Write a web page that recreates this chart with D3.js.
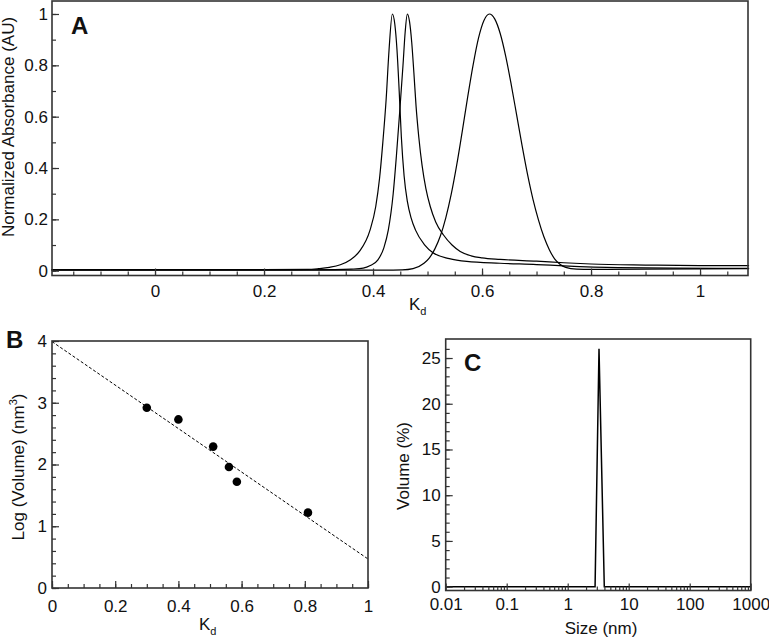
<!DOCTYPE html>
<meta charset="utf-8">
<style>
body { margin: 0; background: #fff; }
text { font-family: "Liberation Sans", Arial, sans-serif; fill: #111; }
.tick line { stroke: #333; stroke-width: 1.2; }
.frame { fill: none; stroke: #333; stroke-width: 1.6; }
</style>
<body>
<script src="https://d3js.org/d3.v7.min.js"></script>
<script>
// ---- panel A: normalized elution profiles (Kd, absorbance)
var curveA1 = [[-0.19,0.004],[0.0,0.004],[0.2,0.004],[0.28,0.005],[0.30,0.008],[0.32,0.013],[0.34,0.023],[0.358,0.042],[0.375,0.075],
  [0.3945,0.158],[0.405,0.25],[0.412,0.36],[0.418,0.5],[0.424,0.665],[0.4294,0.86],[0.4355,1.0],[0.44,0.96],[0.444,0.86],
  [0.448,0.7],[0.452,0.52],[0.457,0.37],[0.463,0.27],[0.47,0.205],[0.478,0.158],[0.495,0.1],[0.51,0.07],[0.54,0.047],
  [0.572,0.036],[0.633,0.029],[0.70,0.024],[0.75,0.019],[0.85,0.012],[0.95,0.01],[1.09,0.009]];
var curveA2 = [[-0.19,0.003],[0.2,0.003],[0.33,0.004],[0.36,0.006],[0.382,0.01],[0.395,0.02],[0.409,0.042],[0.42,0.09],
  [0.428,0.158],[0.437,0.3],[0.443,0.45],[0.449,0.62],[0.455,0.8],[0.459,0.93],[0.463,1.0],[0.467,0.97],[0.471,0.89],
  [0.475,0.77],[0.479,0.64],[0.484,0.52],[0.49,0.41],[0.497,0.32],[0.505,0.25],[0.515,0.19],[0.529,0.14],[0.545,0.1],
  [0.56,0.075],[0.58,0.058],[0.6,0.05],[0.633,0.044],[0.70,0.037],[0.75,0.031],[0.80,0.026],[0.90,0.022],[1.0,0.02],[1.09,0.02]];
var curveA3 = [[-0.19,0.002],[0.3,0.002],[0.42,0.002],[0.4535,0.003],[0.4735,0.008],[0.4935,0.029],[0.5035,0.05],[0.5135,0.085],
  [0.5235,0.135],[0.5335,0.206],[0.5435,0.298],[0.5535,0.411],[0.5635,0.54],[0.5735,0.674],[0.5835,0.8],[0.5935,0.906],
  [0.6035,0.975],[0.6135,1.0],[0.6235,0.98],[0.6335,0.923],[0.6435,0.835],[0.6535,0.726],[0.6635,0.607],[0.6735,0.487],
  [0.6835,0.375],[0.6935,0.278],[0.7035,0.198],[0.7135,0.132],[0.7235,0.082],[0.7335,0.045],[0.7435,0.024],[0.7535,0.013],
  [0.7735,0.006],[0.8,0.005],[0.9,0.006],[1.0,0.007],[1.09,0.008]];
var ticksAx = [0, 0.2, 0.4, 0.6, 0.8, 1];
var ticksAy = [0, 0.2, 0.4, 0.6, 0.8, 1];

// ---- panel B: calibration
var kdB = [0.30, 0.40, 0.51, 0.56, 0.585, 0.81];
var logVolB = [2.92, 2.73, 2.29, 1.96, 1.72, 1.22];
var fitKd = [0, 1];
var fitLog = [3.99, 0.47];
var ticksBx = [0, 0.2, 0.4, 0.6, 0.8, 1];
var ticksBy = [0, 1, 2, 3, 4];

// ---- panel C: DLS size distribution
var sizeC = [0.01, 2.81, 3.26, 3.98, 1000];
var volC = [0, 0, 26, 0, 0];
var ticksCx = [0.01, 0.1, 1, 10, 100, 1000];
var ticksCy = [0, 5, 10, 15, 20, 25];

var svg = d3.select("body").append("svg").attr("width", 769).attr("height", 640);

function fmt(d) { return String(d); }

function axes(g, x, y, box, o) {
  // minor ticks first
  g.append("g").attr("transform", "translate(0," + box.b + ")")
    .call(d3.axisBottom(x).tickValues(o.xMinor).tickSize(-4).tickFormat(""))
    .call(function(s) { s.select(".domain").remove(); });
  g.append("g").attr("transform", "translate(" + box.l + ",0)")
    .call(d3.axisLeft(y).tickValues(o.yMinor).tickSize(-4).tickFormat(""))
    .call(function(s) { s.select(".domain").remove(); });
  g.append("g").attr("transform", "translate(0," + box.b + ")")
    .call(d3.axisBottom(x).tickValues(o.xMajor).tickSize(-7).tickPadding(o.xPad).tickFormat(fmt))
    .call(function(s) { s.select(".domain").remove(); });
  g.append("g").attr("transform", "translate(" + box.l + ",0)")
    .call(d3.axisLeft(y).tickValues(o.yMajor).tickSize(-7).tickPadding(o.yPad).tickFormat(fmt))
    .call(function(s) { s.select(".domain").remove(); });
  g.selectAll("g[font-family]").attr("font-family", null);
  g.selectAll(".tick text").attr("fill", "#111").attr("font-size", 17);
  g.append("rect").attr("class", "frame")
    .attr("x", box.l).attr("y", box.t).attr("width", box.r - box.l).attr("height", box.b - box.t);
}

function kdLabel(g, x, y) {
  var t = g.append("text").attr("x", x).attr("y", y).attr("font-size", 17);
  t.append("tspan").text("K");
  t.append("tspan").attr("font-size", 11).attr("dy", 5).text("d");
}

function panelLetter(g, x, y, s) {
  g.append("text").attr("x", x).attr("y", y).attr("font-size", 24)
    .attr("font-weight", "bold").text(s);
}

// ================= A =================
var boxA = {l: 52, r: 748, t: 1, b: 275.5};
var xA = d3.scaleLinear().domain([-0.189, 1.088]).range([boxA.l, boxA.r]);
var yA = d3.scaleLinear().domain([-0.0187, 1.0506]).range([boxA.b, boxA.t]);
var gA = svg.append("g");
var lineA = d3.line().x(function(d) { return xA(d[0]); }).y(function(d) { return yA(d[1]); })
  .curve(d3.curveMonotoneX);
[curveA1, curveA2, curveA3].forEach(function(c) {
  gA.append("path").datum(c).attr("d", lineA)
    .attr("fill", "none").attr("stroke", "#000").attr("stroke-width", 1.2);
});
axes(gA, xA, yA, boxA, {
  xMajor: ticksAx, xMinor: d3.range(-0.15, 1.06, 0.05), xPad: 9.5,
  yMajor: ticksAy, yMinor: d3.range(0, 1.01, 0.1), yPad: 4
});
panelLetter(gA, 71, 34, "A");
kdLabel(gA, 409, 310);
gA.append("text").attr("transform", "translate(14,127) rotate(-90)")
  .attr("text-anchor", "middle").attr("font-size", 17).text("Normalized Absorbance (AU)");

// ================= B =================
var boxB = {l: 52, r: 368, t: 341, b: 588};
var xB = d3.scaleLinear().domain([0, 1]).range([boxB.l, boxB.r]);
var yB = d3.scaleLinear().domain([0, 4]).range([boxB.b, boxB.t]);
var gB = svg.append("g");
gB.append("path").datum(d3.zip(fitKd, fitLog))
  .attr("d", d3.line().x(function(d) { return xB(d[0]); }).y(function(d) { return yB(d[1]); }))
  .attr("fill", "none").attr("stroke", "#000").attr("stroke-width", 1).attr("stroke-dasharray", "3,2");
gB.selectAll("circle").data(d3.zip(kdB, logVolB)).enter().append("circle")
  .attr("cx", function(d) { return xB(d[0]); })
  .attr("cy", function(d) { return yB(d[1]); })
  .attr("r", 4.3).attr("fill", "#000");
axes(gB, xB, yB, boxB, {
  xMajor: ticksBx, xMinor: d3.range(0, 1.001, 0.05), xPad: 12,
  yMajor: ticksBy, yMinor: d3.range(0, 4.001, 0.2), yPad: 5
});
panelLetter(gB, 6, 348, "B");
kdLabel(gB, 199, 630);
var tB = gB.append("text").attr("transform", "translate(24,467) rotate(-90)")
  .attr("text-anchor", "middle").attr("font-size", 17);
tB.append("tspan").text("Log (Volume) (nm");
tB.append("tspan").attr("font-size", 11).attr("dy", -7).text("3");
tB.append("tspan").attr("dy", 7).text(")");

// ================= C =================
var boxC = {l: 445.7, r: 750.7, t: 339, b: 590.5};
var xC = d3.scaleLog().domain([0.01, 1000]).range([boxC.l, boxC.r]);
var yC = d3.scaleLinear().domain([-0.42, 27.08]).range([boxC.b, boxC.t]);
var gC = svg.append("g");
var minorC = [];
[-2, -1, 0, 1, 2].forEach(function(k) {
  for (var m = 2; m <= 9; m++) minorC.push(m * Math.pow(10, k));
});
gC.append("path").datum(d3.zip(sizeC, volC))
  .attr("d", d3.line().x(function(d) { return xC(d[0]); }).y(function(d) { return yC(d[1]); }))
  .attr("fill", "none").attr("stroke", "#000").attr("stroke-width", 1.5);
axes(gC, xC, yC, boxC, {
  xMajor: ticksCx, xMinor: minorC, xPad: 7.5,
  yMajor: ticksCy, yMinor: d3.range(0, 27, 1), yPad: 5
});
panelLetter(gC, 464, 371, "C");
gC.append("text").attr("x", 601).attr("y", 634).attr("text-anchor", "middle")
  .attr("font-size", 17).text("Size (nm)");
gC.append("text").attr("transform", "translate(409,466) rotate(-90)")
  .attr("text-anchor", "middle").attr("font-size", 17).text("Volume (%)");
</script>
